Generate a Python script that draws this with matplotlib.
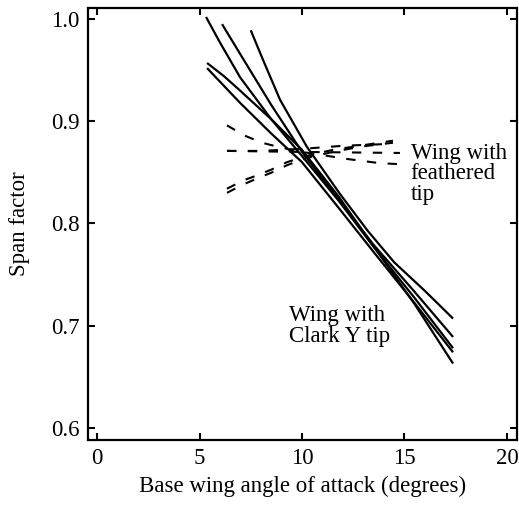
import matplotlib
matplotlib.use("Agg")
import matplotlib.pyplot as plt

plt.rcParams['font.family'] = ['Liberation Serif', 'DejaVu Serif']
plt.rcParams['font.size'] = 16.5

# Wing with Clark Y tip (solid lines)
clark_a_x = [5.32, 6.0, 6.98, 8.5, 10.0, 11.8, 13.5, 15.5, 17.37]
clark_a_y = [1.002, 0.977, 0.943, 0.902, 0.866, 0.822, 0.777, 0.727, 0.678]
clark_b_x = [6.1, 7.16, 8.5, 10.0, 11.8, 13.5, 15.5, 17.37]
clark_b_y = [0.995, 0.960, 0.916, 0.870, 0.823, 0.779, 0.733, 0.689]
clark_c_x = [7.5, 8.1, 8.93, 10.24, 11.85, 13.2, 14.5, 16.0, 17.37]
clark_c_y = [0.989, 0.960, 0.921, 0.875, 0.829, 0.793, 0.762, 0.734, 0.707]
clark_d_x = [5.37, 6.2, 6.98, 8.5, 10.0, 11.8, 13.5, 15.5, 17.37]
clark_d_y = [0.957, 0.944, 0.930, 0.902, 0.872, 0.826, 0.7775, 0.721, 0.663]
clark_e_x = [5.37, 6.98, 8.5, 10.0, 11.8, 13.5, 15.5, 17.37]
clark_e_y = [0.952, 0.918, 0.888, 0.860, 0.815, 0.772, 0.722, 0.674]

# Wing with feathered tip (dashed lines)
feath_f_x = [6.34, 7.2, 8.05, 8.83, 10.0, 12.24, 13.8, 14.78]
feath_f_y = [0.896, 0.886, 0.879, 0.875, 0.870, 0.863, 0.859, 0.858]
feath_g_x = [6.34, 10.0, 14.78]
feath_g_y = [0.871, 0.870, 0.869]
feath_h_x = [6.34, 8.0, 10.0, 12.0, 14.44]
feath_h_y = [0.871, 0.871, 0.873, 0.876, 0.878]
feath_i_x = [6.34, 7.12, 7.8, 8.54, 9.27, 10.2, 11.5, 12.8, 14.44]
feath_i_y = [0.834, 0.842, 0.847, 0.853, 0.860, 0.866, 0.872, 0.876, 0.881]
feath_j_x = [6.34, 7.12, 7.8, 8.54, 9.27, 10.2, 11.5, 12.8, 14.44]
feath_j_y = [0.830, 0.838, 0.844, 0.850, 0.857, 0.864, 0.870, 0.875, 0.879]

x_ticks = [0, 5, 10, 15, 20]
y_ticks = [0.6, 0.7, 0.8, 0.9, 1.0]
y_tick_labels = ["0.6", "0.7", "0.8", "0.9", "1.0"]

fig = plt.figure(figsize=(5.19, 5.08), dpi=100)
ax = fig.add_axes([88/519, 1-440/508, (517-88)/519, (440-8)/508])

solid = [(clark_a_x, clark_a_y), (clark_b_x, clark_b_y), (clark_c_x, clark_c_y),
         (clark_d_x, clark_d_y), (clark_e_x, clark_e_y)]
for xs, ys in solid:
    ax.plot(xs, ys, color='black', lw=1.6, solid_capstyle='butt', solid_joinstyle='round')

dashed = [(feath_f_x, feath_f_y), (feath_g_x, feath_g_y), (feath_h_x, feath_h_y),
          (feath_i_x, feath_i_y), (feath_j_x, feath_j_y)]
for xs, ys in dashed:
    ax.plot(xs, ys, color='black', lw=1.5, dashes=(4.5, 5.5), dash_capstyle='butt')

ax.set_xlim(-0.44, 20.49)
ax.set_ylim(0.5882, 1.0108)
ax.set_xticks(x_ticks)
ax.set_yticks(y_ticks)
ax.set_yticklabels(y_tick_labels)
ax.tick_params(direction='in', length=5, width=1.5, top=True, right=True, pad=6)
for s in ax.spines.values():
    s.set_linewidth(1.6)

ax.set_xlabel("Base wing angle of attack (degrees)", labelpad=5)
ax.set_ylabel("Span factor", labelpad=15)

ax.text(15.3, 0.879, "Wing with\nfeathered\ntip", ha='left', va='top', linespacing=0.97)
ax.text(9.37, 0.720, "Wing with\nClark Y tip", ha='left', va='top', linespacing=0.97)

fig.savefig("out.png", dpi=100)
